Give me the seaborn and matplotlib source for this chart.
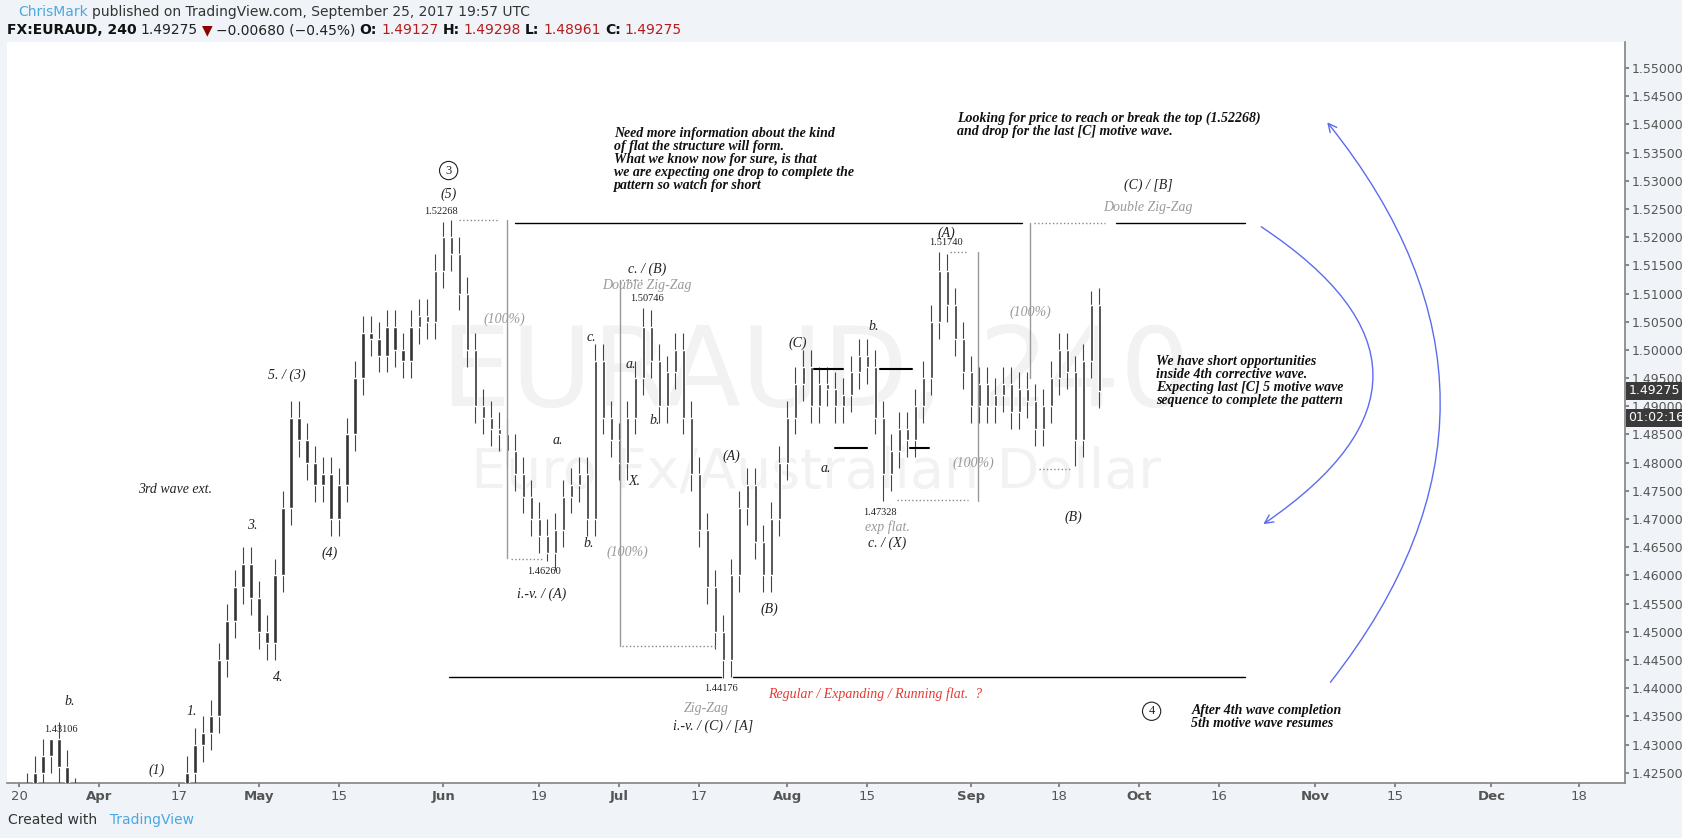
import numpy as np
import pandas as pd
import matplotlib
matplotlib.use("Agg")
import matplotlib.pyplot as plt
from matplotlib.patches import FancyArrowPatch
import seaborn as sns

# daily closes (weekdays from 2017-03-20)
closes = [1.420, 1.422, 1.425, 1.428, 1.431, 1.426, 1.421, 1.418, 1.416, 1.415,
          1.414, 1.413, 1.416, 1.418, 1.417, 1.415, 1.414, 1.416, 1.418, 1.420,
          1.420, 1.425, 1.430, 1.432, 1.435, 1.445, 1.452, 1.458, 1.462, 1.456,
          1.450, 1.448, 1.460, 1.472, 1.488, 1.484, 1.480, 1.476, 1.478, 1.470,
          1.476, 1.485, 1.495, 1.503, 1.502, 1.499, 1.504, 1.500, 1.498, 1.504,
          1.506, 1.505, 1.514, 1.520, 1.517, 1.510, 1.500, 1.490, 1.488, 1.486,
          1.485, 1.482, 1.478, 1.474, 1.470, 1.467, 1.464, 1.468, 1.474, 1.476,
          1.478, 1.470, 1.498, 1.488, 1.484, 1.480, 1.488, 1.495, 1.504, 1.498,
          1.490, 1.496, 1.500, 1.488, 1.478, 1.468, 1.458, 1.450, 1.445, 1.460,
          1.472, 1.476, 1.466, 1.460, 1.470, 1.480, 1.488, 1.494, 1.497, 1.490,
          1.494, 1.493, 1.490, 1.492, 1.496, 1.499, 1.497, 1.488, 1.478, 1.482,
          1.486, 1.484, 1.490, 1.495, 1.505, 1.514, 1.508, 1.502, 1.496, 1.490,
          1.494, 1.490, 1.492, 1.494, 1.489, 1.493, 1.491, 1.486, 1.490, 1.495,
          1.500, 1.496, 1.484, 1.498, 1.508, 1.49275]
first_open = 1.418
# swing extremes labelled on the chart (bar index: price)
swing_highs = {4: 1.43106, 53: 1.52268, 78: 1.50746, 115: 1.51740, 134: 1.5105}
swing_lows = {66: 1.46260, 88: 1.44176, 108: 1.47328, 132: 1.4795}

price_ticks = np.arange(1.425, 1.5501, 0.005)
date_ticks = ["2017-03-20", "2017-04-03", "2017-04-17", "2017-05-01", "2017-05-15",
              "2017-06-01", "2017-06-19", "2017-07-03", "2017-07-17", "2017-08-01",
              "2017-08-15", "2017-09-01", "2017-09-18", "2017-10-02", "2017-10-16",
              "2017-11-01", "2017-11-15", "2017-12-01", "2017-12-18"]
date_labels = ["20", "Apr", "17", "May", "15", "Jun", "19", "Jul", "17", "Aug",
               "15", "Sep", "18", "Oct", "16", "Nov", "15", "Dec", "18"]

start = np.datetime64("2017-03-20")
idx = np.arange(len(closes))
opens = [first_open] + closes[:-1]
df = pd.DataFrame({"i": idx, "o": opens, "c": closes})
df["h"] = df[["o", "c"]].max(axis=1) + 0.003
df["l"] = df[["o", "c"]].min(axis=1) - 0.003
for k, v in swing_highs.items():
    df.loc[k, "h"] = v
for k, v in swing_lows.items():
    df.loc[k, "l"] = v

sns.set_theme(style="white")
W, H = 1682, 838
fig = plt.figure(figsize=(W / 100, H / 100), dpi=100, facecolor="#f0f3f7")
ax = fig.add_axes([7 / W, 1 - 783 / H, (1625 - 7) / W, (783 - 42) / H])
ax.set_facecolor("white")

# display-pixel helpers for annotation placement
def X(px):
    return (px * 1.073 - 19) / 8.0

def Y(py):
    return 1.55 - (py * 1.073 - 68) / 5640.0

ax.set_xlim(-1.5, 200.7)
ax.set_ylim(1.4232, 1.5546)

# watermark
ax.text(X(760), Y(350), "EURAUD, 240", fontsize=80, color="#f2f2f2", ha="center", va="center", zorder=0)
ax.text(X(760), Y(440), "Euro Fx/Australian Dollar", fontsize=40, color="#f2f2f2", ha="center", va="center", zorder=0)

# candles
ax.vlines(df["i"], df["l"], df["h"], color="#444", lw=0.8, zorder=3)
ax.bar(df["i"], (df["c"] - df["o"]).abs().clip(lower=0.0006), bottom=df[["o", "c"]].min(axis=1),
       width=0.4, color="#333", zorder=3)

# axes styling
ax.yaxis.tick_right()
ax.set_yticks(price_ticks)
ax.set_yticklabels([f"{p:.5f}" for p in price_ticks], fontsize=9, color="#555")
pos = [np.busday_count(start, np.datetime64(d)) for d in date_ticks]
ax.set_xticks(pos)
ax.set_xticklabels(date_labels, fontsize=9.5, color="#555")
for t, lab in zip(ax.get_xticklabels(), date_labels):
    if not lab.isdigit():
        t.set_fontweight("bold")
ax.tick_params(length=3, color="#777", direction="out", bottom=True, right=True, pad=2)
for s in ["top", "left"]:
    ax.spines[s].set_visible(False)
for s in ["bottom", "right"]:
    ax.spines[s].set_color("#888")

# price boxes
last = closes[-1]
ax.text(1.002, last, f"{last:.5f}", transform=ax.get_yaxis_transform(), fontsize=9, color="white",
        va="center", ha="left", bbox=dict(boxstyle="square,pad=0.2", fc="#3a3a3a", ec="none"))
ax.text(1.002, last - 0.0048, "01:02:16", transform=ax.get_yaxis_transform(), fontsize=9, color="white",
        va="center", ha="left", bbox=dict(boxstyle="square,pad=0.2", fc="#3a3a3a", ec="none"))

# annotation lines
def hline(x0, x1, y, style="-", color="black", lw=1.0):
    ax.plot([X(x0), X(x1)], [Y(y), Y(y)], ls=style, color=color, lw=lw, zorder=4)

def vline(x, y0, y1, color="#999"):
    ax.plot([X(x), X(x)], [Y(y0), Y(y1)], color=color, lw=1.0, zorder=4)

hline(480, 952, 208); hline(1040, 1160, 208)
hline(418, 672, 631); hline(683, 1160, 631)
for a, b, y in [(758, 785, 344), (778, 808, 418), (820, 850, 344), (848, 866, 418)]:
    hline(a, b, y, lw=1.5)
dotc = "#888"
for a, b, y in [(428, 465, 205), (476, 505, 521), (580, 598, 261), (580, 668, 602),
                (836, 902, 466), (885, 902, 235), (968, 997, 437), (963, 1030, 208)]:
    hline(a, b, y, style=":", color=dotc)
vline(472, 205, 520); vline(578, 261, 602); vline(911, 235, 467); vline(960, 208, 352)

serif = "Liberation Serif"

def lab(px, py, s, size=10, color="#222", **kw):
    ax.text(X(px), Y(py), s, fontsize=size, color=color, family=serif, style="italic",
            ha="center", va="center", zorder=5, **kw)

def small(px, py, s):
    ax.text(X(px), Y(py), s, fontsize=7.5, color="#222", family=serif, ha="center", va="center", zorder=5)

grey = "#999"
lab(65, 654, "b."); small(57, 680, "1.43106")
lab(146, 718, "(1)"); lab(179, 663, "1."); lab(235, 490, "3."); lab(259, 632, "4.")
lab(267, 350, "5. / (3)"); lab(307, 516, "(4)"); lab(163, 456, "3rd wave ext.")
ax.text(X(418), Y(159), "3", fontsize=9, ha="center", va="center", family=serif,
        bbox=dict(boxstyle="circle,pad=0.25", fc="white", ec="#222", lw=0.8))
lab(418, 181, "(5)"); small(411, 197, "1.52268")
lab(470, 298, "(100%)", color=grey); small(507, 533, "1.46260"); lab(505, 554, "i.-v. / (A)")
lab(520, 411, "a."); lab(549, 507, "b."); lab(551, 315, "c.")
lab(603, 251, "c. / (B)"); lab(603, 266, "Double Zig-Zag", color=grey); small(603, 278, "1.50746")
lab(585, 515, "(100%)", color=grey); lab(588, 340, "a."); lab(610, 392, "b."); lab(591, 449, "X.")
lab(681, 425, "(A)"); small(672, 642, "1.44176"); lab(658, 660, "Zig-Zag", color=grey)
lab(664, 677, "i.-v. / (C) / [A]"); lab(717, 568, "(B)"); lab(743, 320, "(C)")
lab(815, 647, "Regular / Expanding / Running flat.  ?", color="#e53935")
lab(814, 304, "b."); lab(769, 437, "a."); small(820, 478, "1.47328")
lab(827, 491, "exp flat.", color=grey); lab(827, 506, "c. / (X)")
lab(882, 217, "(A)"); small(881, 226, "1.51740"); lab(907, 432, "(100%)", color=grey)
lab(960, 291, "(100%)", color=grey); lab(1000, 482, "(B)")
lab(1070, 173, "(C) / [B]"); lab(1070, 193, "Double Zig-Zag", color=grey)

def block(px, py, s):
    ax.text(X(px), Y(py), s, fontsize=10, color="#111", family=serif, style="italic",
            weight="bold", ha="left", va="top", linespacing=1.0, zorder=5)

block(572, 118, "Need more information about the kind\nof flat the structure will form.\n"
      "What we know now for sure, is that\nwe are expecting one drop to complete the\n"
      "pattern so watch for short")
block(892, 104, "Looking for price to reach or break the top (1.52268)\nand drop for the last [C] motive wave.")
block(1077, 331, "We have short opportunities\ninside 4th corrective wave.\n"
      "Expecting last [C] 5 motive wave\nsequence to complete the pattern")
block(1110, 656, "After 4th wave completion\n5th motive wave resumes")
ax.text(X(1073), Y(663), "4", fontsize=9, ha="center", va="center", family=serif,
        bbox=dict(boxstyle="circle,pad=0.25", fc="white", ec="#222", lw=0.8))

blue = "#5c6bf0"
ax.add_patch(FancyArrowPatch((X(1173), Y(210)), (X(1175), Y(490)), connectionstyle="arc3,rad=-0.75",
                             arrowstyle="->,head_length=6,head_width=3", color=blue, lw=1.0, zorder=5))
ax.add_patch(FancyArrowPatch((X(1238), Y(638)), (X(1235), Y(112)), connectionstyle="arc3,rad=0.4",
                             arrowstyle="->,head_length=6,head_width=3", color=blue, lw=1.0, zorder=5))

# header and footer: place pieces one after another
renderer = fig.canvas.get_renderer()

def row(x_px, y_px, parts):
    x = x_px / W
    for s, c, w in parts:
        t = fig.text(x, 1 - y_px / H, s, color=c, fontsize=10, weight=w, va="center")
        bb = t.get_window_extent(renderer=renderer)
        x = (bb.x1 + 4) / W

red = "#b71c1c"
row(18, 12, [("ChrisMark", "#4aa8e0", "normal"),
             ("published on TradingView.com, September 25, 2017 19:57 UTC", "#333", "normal")])
row(7, 30, [("FX:EURAUD, 240", "#111", "bold"), ("1.49275", "#222", "normal"),
            ("\u25bc", "#8b0000", "normal"), ("\u22120.00680 (\u22120.45%)", "#222", "normal"),
            ("O:", "#111", "bold"), ("1.49127", red, "normal"), ("H:", "#111", "bold"),
            ("1.49298", red, "normal"), ("L:", "#111", "bold"), ("1.48961", red, "normal"),
            ("C:", "#111", "bold"), ("1.49275", red, "normal")])
row(8, 820, [("Created with", "#333", "normal"), ("  TradingView", "#4aa8e0", "normal")])

fig.savefig("out.png", dpi=100, facecolor=fig.get_facecolor())
